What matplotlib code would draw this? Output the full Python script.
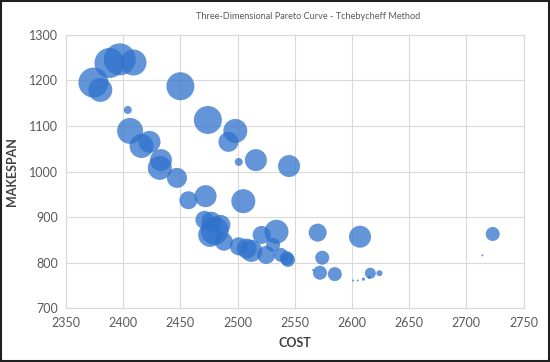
import matplotlib

matplotlib.use("Agg")
import matplotlib.pyplot as plt
from matplotlib.patches import Rectangle

# cost, makespan, bubble size (third objective, relative)
cost = [2397, 2409, 2388, 2374, 2380, 2450, 2404, 2406, 2423, 2416,
        2433, 2432, 2447, 2474, 2498, 2492, 2501, 2516, 2545,
        2457, 2472, 2505, 2471, 2477, 2480, 2485, 2488, 2476,
        2501, 2508, 2512, 2521, 2534, 2531, 2525, 2538, 2544,
        2543, 2570, 2607, 2574, 2572, 2585, 2566, 2601, 2605,
        2610, 2616, 2624, 2723, 2714, 2615]
makespan = [1246, 1239, 1238, 1195, 1179, 1187, 1135, 1089, 1065, 1056,
            1025, 1008, 986, 1113, 1089, 1065, 1021, 1025, 1012,
            937, 946, 935, 894, 890, 870, 883, 846, 861,
            836, 831, 826, 861, 868, 839, 817, 817, 806,
            810, 866, 857, 811, 778, 775, 784, 761, 761,
            764, 777, 777, 863, 816, 768]
size = [16, 13, 15, 15, 12, 14, 4, 13, 11, 12,
        11, 12, 10, 14, 12, 10, 4, 11, 11,
        9, 11, 12, 9, 10, 14, 10, 9, 12,
        9, 10, 11, 9, 12, 7, 9, 7, 7,
        7, 9, 11, 7, 7, 7, 1, 1, 1,
        1.6, 5.5, 3, 7, 1, 1.5]

fig = plt.figure(figsize=(5.5, 3.62), dpi=100)
ax = fig.add_axes([0.12, 0.1483, 0.832, 0.7558])

s = [(1.44 * r) ** 2 for r in size]
ax.scatter(cost, makespan, s=s, color="#2f72cc", alpha=0.75, linewidths=0, zorder=3)

ax.set_xlim(2350, 2750)
ax.set_ylim(700, 1300)
ax.set_xticks(range(2350, 2751, 50))
ax.set_yticks(range(700, 1301, 100))
ax.grid(True, color="#d9d9d9", linewidth=0.8, zorder=0)
for sp in ax.spines.values():
    sp.set_color("#d9d9d9")
    sp.set_linewidth(0.8)
ax.tick_params(length=0, labelsize=9, labelcolor="#595959", pad=6)
for lab in ax.get_xticklabels() + ax.get_yticklabels():
    lab.set_family("Lato")

ax.set_xlabel("COST", fontsize=9, fontweight="bold", color="#404040", family="Lato", labelpad=6)
ax.set_ylabel("MAKESPAN", fontsize=9, fontweight="bold", color="#404040", family="Lato", labelpad=8)

fig.text(0.56, 1 - 16.7 / 362, "Three-Dimensional Pareto Curve - Tchebycheff Method",
         ha="center", va="center", fontsize=6.6, color="#595959", family="Lato")

fig.patches.append(Rectangle((0.002, 0.003), 0.996, 0.994, transform=fig.transFigure,
                             fill=False, edgecolor="#202020", linewidth=1.5))

fig.savefig("out.png", dpi=100)
